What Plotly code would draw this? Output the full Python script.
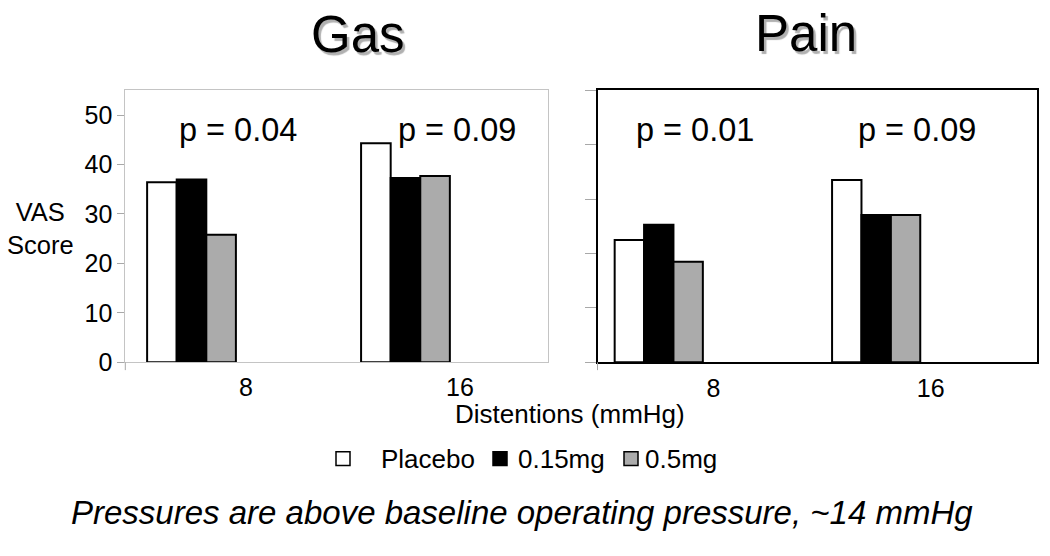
import plotly.graph_objects as go

# ---- data ----
categories = ["8", "16"]
series_names = ["Placebo", "0.15mg", "0.5mg"]
gas_values = [[36.4, 44.3], [37.0, 37.3], [25.8, 37.7]]
pain_values = [[22.5, 33.5], [25.3, 27.1], [18.5, 27.1]]
gas_p = ["p = 0.04", "p = 0.09"]
pain_p = ["p = 0.01", "p = 0.09"]
panel_titles = ["Gas", "Pain"]
y_ticks = [0, 10, 20, 30, 40, 50]

# ---- styling ----
colors = ["#ffffff", "#000000", "#ababab"]
FONT = "Liberation Sans, Arial, sans-serif"
W, H = 1050, 556

fig = go.Figure()

L_w, L_off = 0.1383, -0.462
R_w, R_off = 0.1352, -0.454

for i, name in enumerate(series_names):
    fig.add_trace(go.Bar(
        x=categories, y=gas_values[i], name=name,
        marker=dict(color=colors[i], line=dict(color="black", width=2)),
        width=L_w, offset=L_off + i * L_w,
        xaxis="x", yaxis="y", showlegend=False))
    fig.add_trace(go.Bar(
        x=categories, y=pain_values[i], name=name,
        marker=dict(color=colors[i], line=dict(color="black", width=2)),
        width=R_w, offset=R_off + i * R_w,
        xaxis="x2", yaxis="y2", showlegend=False))

ydom = [(H - 371.7) / H, (H - 92.7) / H]

fig.update_layout(
    width=W, height=H,
    margin=dict(l=0, r=0, t=0, b=0),
    paper_bgcolor="white", plot_bgcolor="white",
    barmode="overlay",
    font=dict(family=FONT, color="black", size=25),
    xaxis=dict(domain=[125.3 / W, 548.3 / W], anchor="y", type="category",
               range=[-0.564, 1.413], showline=True, linecolor="#c4c4c4",
               linewidth=1, mirror=True, ticks="", showgrid=False,
               zeroline=False, tickfont=dict(size=25), ticklabelstandoff=3),
    yaxis=dict(domain=ydom, anchor="x", range=[0, 55], tickvals=y_ticks,
               showline=True, linecolor="#c4c4c4", linewidth=1, mirror=True,
               ticks="outside", ticklen=7, tickcolor="#a8a8a8",
               showgrid=False, zeroline=False, tickfont=dict(size=25)),
    xaxis2=dict(domain=[597.5 / W, 1037.3 / W], anchor="y2", type="category",
                range=[-0.533, 1.490], showline=True, linecolor="black",
                linewidth=2, mirror=True, ticks="", showgrid=False,
                zeroline=False, tickfont=dict(size=25), ticklabelstandoff=3),
    yaxis2=dict(domain=ydom, anchor="x2", range=[0, 50], tickvals=y_ticks,
                showticklabels=False, showline=True, linecolor="black",
                linewidth=2, mirror=True, ticks="outside", ticklen=11,
                tickcolor="#a8a8a8", showgrid=False, zeroline=False),
)

for xr, yr in [("x domain", "y domain"), ("x2 domain", "y2 domain")]:
    fig.add_shape(type="line", xref=xr, yref=yr, x0=0, x1=0, y0=0,
                  y1=-8 / 279, line=dict(color="#a8a8a8", width=1))

# titles with drop shadow (CSS text-shadow)
title_pos = [(358, 35), (806, 34)]
for t, (tx, ty) in zip(panel_titles, title_pos):
    fig.add_annotation(text=t, x=tx / W, y=1 - ty / H,
                       xref="paper", yref="paper", showarrow=False,
                       xanchor="center", yanchor="middle",
                       font=dict(size=51, color="black",
                                 shadow="2.5px 2.5px 1px #b0b0b0"))

# p-value labels
p_y = 1 - 133 / H
for j, (txt, shift) in enumerate(zip(gas_p, [-8, -3])):
    fig.add_annotation(text=txt, x=j, y=p_y, xref="x", yref="paper",
                       xshift=shift, showarrow=False, xanchor="center",
                       yanchor="middle", font=dict(size=32.5))
for j, (txt, shift) in enumerate(zip(pain_p, [-18, -14])):
    fig.add_annotation(text=txt, x=j, y=p_y, xref="x2", yref="paper",
                       xshift=shift, showarrow=False, xanchor="center",
                       yanchor="middle", font=dict(size=32.5))

# y-axis title
fig.add_annotation(text="VAS<br>Score", x=40 / W, y=1 - 234 / H,
                   xref="paper", yref="paper", showarrow=False,
                   xanchor="center", yanchor="middle",
                   font=dict(size=25.5), align="center")

# x-axis title
fig.add_annotation(text="Distentions (mmHg)", x=570 / W, y=1 - 425 / H,
                   xref="paper", yref="paper", showarrow=False,
                   xanchor="center", yanchor="middle", font=dict(size=26))

# legend (manual)
leg_y = 470.5
sq_x = [336, 493, 624]
txt_x = [379, 516, 643]
for i, name in enumerate(series_names):
    fig.add_shape(type="rect", xref="paper", yref="paper",
                  x0=sq_x[i] / W, x1=(sq_x[i] + 14) / W,
                  y0=1 - (leg_y + 7) / H, y1=1 - (leg_y - 7) / H,
                  fillcolor=colors[i], line=dict(color="black", width=1.5))
    fig.add_annotation(text=name, x=txt_x[i] / W, y=1 - leg_y / H,
                       xref="paper", yref="paper", xanchor="left",
                       yanchor="middle", showarrow=False,
                       font=dict(size=26))

# footnote
fig.add_annotation(text="<i>Pressures are above baseline operating pressure, ~14 mmHg</i>",
                   x=522 / W, y=1 - 526 / H, xref="paper", yref="paper",
                   showarrow=False, xanchor="center", yanchor="middle",
                   font=dict(size=33))

fig.write_html("out.html",
               config={"displayModeBar": False},
               post_script="document.body.style.margin='0';document.body.style.overflow='hidden';")
